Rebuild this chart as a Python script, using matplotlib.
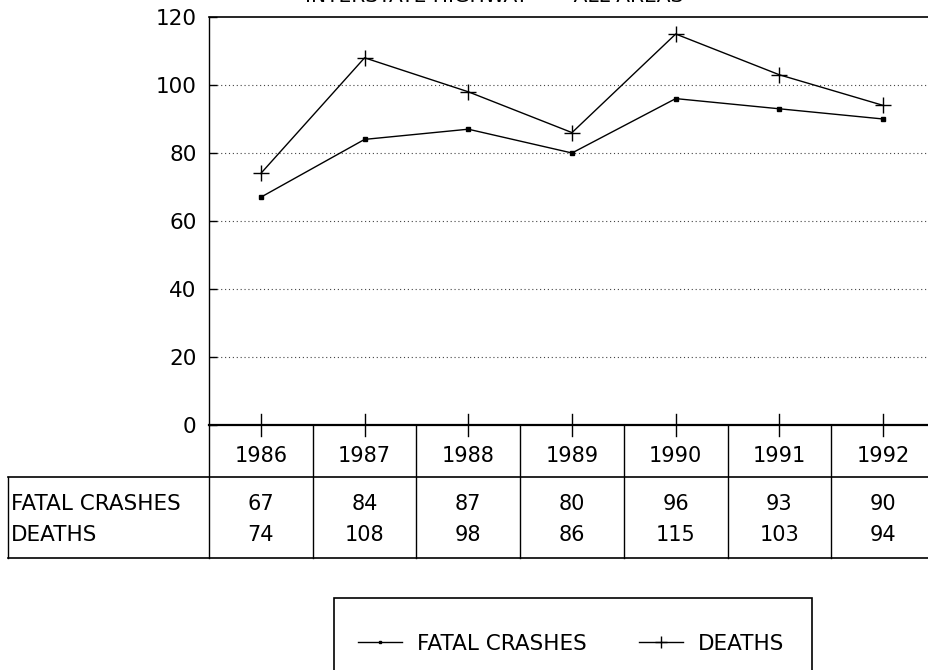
import matplotlib
matplotlib.use("Agg")
import matplotlib.pyplot as plt
from matplotlib.transforms import blended_transform_factory
from matplotlib.lines import Line2D
from matplotlib.patches import Rectangle

years = ["1986", "1987", "1988", "1989", "1990", "1991", "1992"]
fatal_crashes = [67, 84, 87, 80, 96, 93, 90]
deaths = [74, 108, 98, 86, 115, 103, 94]
row_labels = ["FATAL CRASHES", "DEATHS"]
yticks = [0, 20, 40, 60, 80, 100, 120]
title = "INTERSTATE HIGHWAY  \u2014  ALL AREAS"

W, H = 929, 670
plt.rcParams['font.family'] = ['DejaVu Sans']
fig = plt.figure(figsize=(W / 100, H / 100), dpi=100)

def fx(px):
    return px / W

def fy(py):
    return 1 - py / H

ax_left, ax_right, ax_top, ax_bot = 209, 935, 17, 425
ax = fig.add_axes([fx(ax_left), fy(ax_bot), fx(ax_right - ax_left), (ax_bot - ax_top) / H])
x = list(range(len(years)))
ax.plot(x, fatal_crashes, color='black', lw=1.0, marker='s', ms=2.5, label=row_labels[0])
ax.plot(x, deaths, color='black', lw=1.0, marker='+', ms=11, mew=1.0, label=row_labels[1])
ax.set_xlim(-0.5, len(years) - 0.5)
ax.set_ylim(0, 120)
ax.set_yticks(yticks)
ax.tick_params(axis='y', labelsize=15.5, length=6, direction='in', width=1, pad=9)
ax.set_xticks([])
for v in yticks[1:-1]:
    ax.axhline(v, color='#444444', lw=0.8, ls=(0, (1, 2.5)), zorder=0)
ax.spines['right'].set_visible(False)
ax.spines['top'].set_linewidth(1.2)
ax.spines['bottom'].set_linewidth(1.6)
ax.spines['left'].set_linewidth(1.0)

# ticks crossing the x-axis at each year
for xi in x:
    ax.plot([xi, xi], [-3.2, 3.2], color='black', lw=1.0, clip_on=False)

# table
tr = blended_transform_factory(ax.transData, fig.transFigure)
year_row_bot = 477
table_bot = 558
table_left = 8
year_y = 456
row_y = [504, 535]
for i in range(len(years) + 1):
    xb = i - 0.5
    ax.add_line(Line2D([xb, xb], [fy(ax_bot), fy(table_bot)], transform=tr, color='black', lw=1.0, clip_on=False))
for yy in (year_row_bot, table_bot):
    fig.add_artist(Line2D([fx(table_left), fx(ax_right)], [fy(yy), fy(yy)], color='black', lw=1.2))
fig.add_artist(Line2D([fx(table_left), fx(table_left)], [fy(year_row_bot), fy(table_bot)], color='black', lw=1.0))
for i, yr in enumerate(years):
    ax.text(i, fy(year_y), yr, transform=tr, ha='center', va='center', fontsize=15, clip_on=False)
    ax.text(i, fy(row_y[0]), str(fatal_crashes[i]), transform=tr, ha='center', va='center', fontsize=15, clip_on=False)
    ax.text(i, fy(row_y[1]), str(deaths[i]), transform=tr, ha='center', va='center', fontsize=15, clip_on=False)
for lab, yy in zip(row_labels, row_y):
    fig.text(fx(table_left + 3), fy(yy), lab, ha='left', va='center', fontsize=15.5)

# title (clipped at top of figure, as in the reference)
fig.text(fx(494), fy(2), title, ha='center', va='baseline', fontsize=14.5)

# legend: frame extends below the figure edge as in the reference
fig.add_artist(Rectangle((fx(334), fy(700)), fx(812 - 334), (700 - 598) / H,
                         transform=fig.transFigure, fill=False, edgecolor='black', lw=1.2))
leg = fig.legend(loc='center left', bbox_to_anchor=(fx(358), fy(644)),
                 ncol=2, frameon=False, fontsize=15.5, borderpad=0, handlelength=2.05,
                 handletextpad=0.7, columnspacing=2.4, borderaxespad=0)
for h in leg.legend_handles:
    h.set_markersize(h.get_markersize() * 0.85)

fig.savefig("out.png", dpi=100)
